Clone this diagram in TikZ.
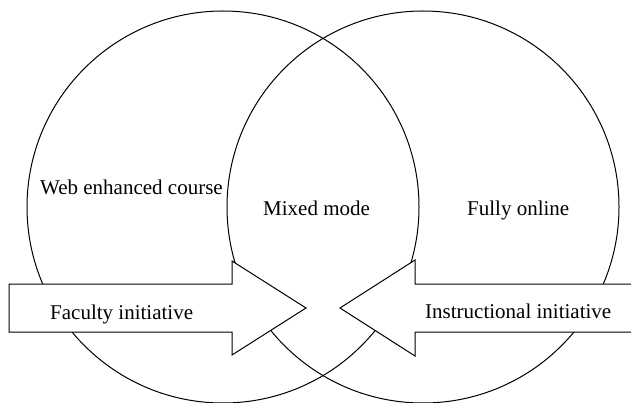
\documentclass[tikz,border=0pt]{standalone}
\usepackage{fontspec}
\setmainfont{Liberation Serif}
\newfontfamily\labelfont{Liberation Serif}
\begin{document}
\begin{tikzpicture}[x=1pt,y=-1pt,
  ring/.style={draw, line width=1pt, circle, minimum size=392pt, inner sep=0pt},
  arrowbody/.style={fill=white, draw, line width=1pt, line join=miter},
  lbl/.style={anchor=base west, inner sep=0pt, font=\labelfont\fontsize{21}{25}\selectfont}]
  \useasboundingbox (0,0) rectangle (631,403);

  % the two overlapping course-mode circles
  \node[ring] (webc) at (223,207) {};
  \node[ring] (online) at (423,207) {};

  % left block arrow pointing into the overlap
  \draw[arrowbody] (9,284) -- (232,284) -- (232,261) -- (306,308)
    -- (232,355) -- (232,332) -- (9,332) -- cycle;

  % right block arrow, its tail running off the right edge
  \fill[white] (640,284) -- (415,284) -- (415,260) -- (340,308)
    -- (415,356) -- (415,332) -- (640,332) -- cycle;
  \draw[line width=1pt, line join=miter] (640,284) -- (415,284) -- (415,260)
    -- (340,308) -- (415,356) -- (415,332) -- (640,332);

  % labels
  \node[lbl] (tweb) at (40,195) {Web enhanced course};
  \node[lbl] (tmix) at (263,215) {Mixed mode};
  \node[lbl] (tful) at (467,215) {Fully online};
  \node[lbl] (tfac) at (50,319) {Faculty initiative};
  \node[lbl] (tins) at (425,318) {Instructional initiative};
\end{tikzpicture}
\end{document}
